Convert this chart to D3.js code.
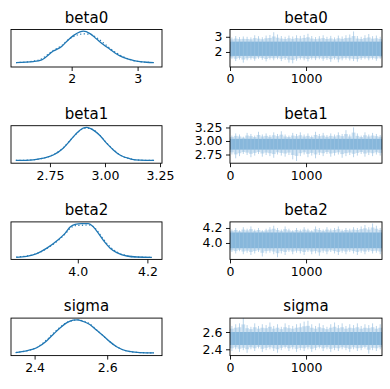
<!DOCTYPE html>
<html lang="en">
<head>
<meta charset="UTF-8">
<title>Trace plot</title>
<script src="https://cdn.jsdelivr.net/npm/d3@7"></script>
<style>
  body { margin: 0; background: #fff; }
  text { font-family: "DejaVu Sans", sans-serif; fill: #000; }
</style>
</head>
<body>
<script>
// variable names (one row each)
const varNames = ["beta0", "beta1", "beta2", "sigma"];

// density curves (relative height, peak = 1), two chains
const beta0Grid = [1.156, 1.419, 1.545, 1.722, 1.848, 1.924, 2.025, 2.126, 2.177, 2.278, 2.379, 2.48, 2.58, 2.681, 2.782, 2.883, 2.984, 3.136, 3.247];
const beta0Kde0 = [0.08, 0.11, 0.16, 0.42, 0.55, 0.70, 0.87, 0.98, 1.0, 0.93, 0.77, 0.61, 0.47, 0.33, 0.23, 0.17, 0.12, 0.09, 0.08];
const beta0Kde1 = [0.08, 0.12, 0.19, 0.44, 0.58, 0.71, 0.84, 0.91, 0.92, 0.91, 0.81, 0.66, 0.50, 0.36, 0.25, 0.17, 0.12, 0.09, 0.08];

const beta1Grid = [2.595, 2.674, 2.72, 2.765, 2.81, 2.84, 2.871, 2.901, 2.917, 2.947, 2.977, 3.008, 3.038, 3.068, 3.114, 3.159, 3.223];
const beta1Kde0 = [0.03, 0.05, 0.10, 0.19, 0.39, 0.60, 0.83, 0.98, 1.0, 0.92, 0.76, 0.53, 0.34, 0.19, 0.08, 0.04, 0.03];
const beta1Kde1 = [0.03, 0.05, 0.10, 0.20, 0.40, 0.61, 0.82, 0.96, 0.98, 0.93, 0.77, 0.54, 0.35, 0.19, 0.08, 0.04, 0.03];

const beta2Grid = [3.823, 3.853, 3.882, 3.911, 3.94, 3.964, 3.978, 3.992, 4.011, 4.03, 4.045, 4.059, 4.074, 4.093, 4.112, 4.141, 4.17, 4.213];
const beta2Kde0 = [0.01, 0.04, 0.12, 0.28, 0.50, 0.72, 0.90, 0.98, 1.0, 1.0, 0.90, 0.72, 0.50, 0.28, 0.15, 0.05, 0.02, 0.01];
const beta2Kde1 = [0.02, 0.05, 0.12, 0.27, 0.48, 0.70, 0.86, 0.94, 0.95, 0.96, 0.91, 0.75, 0.54, 0.32, 0.17, 0.06, 0.02, 0.01];

const sigmaGrid = [2.348, 2.378, 2.406, 2.433, 2.451, 2.47, 2.488, 2.506, 2.517, 2.534, 2.552, 2.571, 2.589, 2.607, 2.626, 2.653, 2.69, 2.729];
const sigmaKde0 = [0.04, 0.09, 0.18, 0.38, 0.57, 0.76, 0.91, 0.99, 1.0, 0.95, 0.86, 0.69, 0.53, 0.36, 0.21, 0.09, 0.04, 0.03];
const sigmaKde1 = [0.04, 0.09, 0.19, 0.41, 0.60, 0.78, 0.92, 0.98, 1.0, 0.97, 0.88, 0.70, 0.53, 0.36, 0.21, 0.09, 0.04, 0.03];

// trace column: 2000 draws, summarised in 40 blocks of 50 (block max / min) + dense central band
const nDraws = 2000;
const beta0Hi = [2.95, 3.05, 2.98, 3.02, 3.0, 2.96, 3.1, 3.04, 2.97, 3.08, 3.12, 3.3, 3.15, 3.05, 3.0, 3.08, 3.02, 3.1, 3.06, 3.12, 3.2, 3.05, 2.98, 3.04, 3.1, 3.0, 3.06, 2.96, 3.08, 3.02, 3.1, 3.15, 3.35, 3.05, 3.0, 3.1, 3.18, 3.04, 3.08, 3.0];
const beta0Lo = [1.55, 1.4, 1.5, 1.3, 1.45, 1.5, 1.42, 1.55, 1.48, 1.38, 1.5, 1.45, 1.52, 1.4, 1.48, 1.3, 1.25, 1.42, 1.5, 1.45, 1.38, 1.5, 1.46, 1.52, 1.42, 1.48, 1.35, 1.5, 1.32, 1.45, 1.5, 1.44, 1.4, 1.36, 1.48, 1.52, 1.45, 1.5, 1.42, 1.55];
const beta0Band = [1.74, 2.68];

const beta1Hi = [3.1, 3.14, 3.12, 3.08, 3.15, 3.13, 3.1, 3.17, 3.12, 3.14, 3.11, 3.16, 3.13, 3.18, 3.12, 3.1, 3.15, 3.13, 3.16, 3.12, 3.14, 3.1, 3.17, 3.13, 3.15, 3.11, 3.14, 3.12, 3.16, 3.13, 3.2, 3.12, 3.25, 3.14, 3.1, 3.16, 3.12, 3.15, 3.13, 3.11];
const beta1Lo = [2.75, 2.68, 2.72, 2.76, 2.74, 2.7, 2.73, 2.76, 2.71, 2.74, 2.72, 2.69, 2.75, 2.73, 2.71, 2.74, 2.66, 2.63, 2.72, 2.75, 2.7, 2.73, 2.68, 2.74, 2.72, 2.76, 2.71, 2.73, 2.75, 2.69, 2.72, 2.74, 2.7, 2.73, 2.76, 2.71, 2.74, 2.72, 2.75, 2.73];
const beta1Band = [2.84, 3.04];

const beta2Hi = [4.18, 4.2, 4.17, 4.21, 4.19, 4.22, 4.18, 4.2, 4.17, 4.19, 4.21, 4.23, 4.2, 4.18, 4.22, 4.19, 4.17, 4.2, 4.18, 4.21, 4.19, 4.17, 4.22, 4.2, 4.18, 4.21, 4.19, 4.2, 4.22, 4.18, 4.2, 4.19, 4.21, 4.2, 4.22, 4.24, 4.21, 4.26, 4.23, 4.2];
const beta2Lo = [3.88, 3.86, 3.89, 3.85, 3.87, 3.84, 3.86, 3.88, 3.82, 3.86, 3.87, 3.85, 3.81, 3.86, 3.84, 3.88, 3.85, 3.87, 3.86, 3.84, 3.88, 3.85, 3.86, 3.83, 3.87, 3.85, 3.88, 3.86, 3.84, 3.87, 3.85, 3.88, 3.86, 3.84, 3.87, 3.85, 3.88, 3.86, 3.87, 3.85];
const beta2Band = [3.93, 4.14];

const sigmaHi = [2.67, 2.69, 2.7, 2.76, 2.68, 2.66, 2.7, 2.67, 2.69, 2.68, 2.71, 2.67, 2.69, 2.66, 2.7, 2.68, 2.67, 2.69, 2.7, 2.72, 2.73, 2.69, 2.67, 2.7, 2.68, 2.66, 2.69, 2.71, 2.68, 2.7, 2.67, 2.69, 2.68, 2.7, 2.67, 2.69, 2.68, 2.7, 2.67, 2.69];
const sigmaLo = [2.38, 2.4, 2.37, 2.39, 2.36, 2.4, 2.38, 2.41, 2.37, 2.39, 2.4, 2.38, 2.36, 2.39, 2.41, 2.38, 2.4, 2.37, 2.39, 2.38, 2.4, 2.37, 2.39, 2.41, 2.38, 2.4, 2.37, 2.39, 2.38, 2.4, 2.39, 2.37, 2.4, 2.38, 2.39, 2.41, 2.35, 2.39, 2.38, 2.4];
const sigmaBand = [2.45, 2.60];

// tick labels
const kdeTicks = [[2, 3], [2.75, 3.0, 3.25], [4.0, 4.2], [2.4, 2.6]];
const traceYTicks = [[2, 3], [2.75, 3.0, 3.25], [4.0, 4.2], [2.4, 2.6]];
const traceXTicks = [0, 1000];

// axis ranges as shown
const kdeXDomain = [[1.08, 3.37], [2.573, 3.259], [3.808, 4.242], [2.335, 2.751]];
const traceYDomain = [[1.01, 3.48], [2.589, 3.283], [3.781, 4.281], [2.327, 2.761]];

const rows = [
  {grid: beta0Grid, k0: beta0Kde0, k1: beta0Kde1, hi: beta0Hi, lo: beta0Lo, band: beta0Band},
  {grid: beta1Grid, k0: beta1Kde0, k1: beta1Kde1, hi: beta1Hi, lo: beta1Lo, band: beta1Band},
  {grid: beta2Grid, k0: beta2Kde0, k1: beta2Kde1, hi: beta2Hi, lo: beta2Lo, band: beta2Band},
  {grid: sigmaGrid, k0: sigmaKde0, k1: sigmaKde1, hi: sigmaHi, lo: sigmaLo, band: sigmaBand}
];

const W = 390, H = 389;
const leftX = [11, 162], rightX = [230, 382];
const rowTop = i => 29.5 + i * 96.2;
const rowH = 37.5;
const blue = "#1f77b4";

const svg = d3.select("body").append("svg")
    .attr("width", W)
    .attr("height", H);

function tickFormatFor(ticks) {
  const dec = d3.max(ticks, t => {
    const s = String(t).split(".")[1];
    return s ? s.length : 0;
  });
  return d3.format("." + dec + "f");
}

function styleAxis(g) {
  g.selectAll(".domain").remove();
  g.selectAll("line").attr("stroke", "#000").attr("stroke-width", 0.9);
  g.selectAll("text").attr("font-size", 12.5).style("font-family", "DejaVu Sans");
}

rows.forEach((r, i) => {
  const top = rowTop(i), bottom = top + rowH;

  // ---------- left: KDE ----------
  const x = d3.scaleLinear().domain(kdeXDomain[i]).range(leftX);
  const y = d3.scaleLinear().domain([-0.05, 1.05]).range([bottom, top]);
  const gk = svg.append("g");

  const line = d3.line()
      .x(d => x(d[0]))
      .y(d => y(d[1]))
      .curve(d3.curveMonotoneX);

  gk.append("path")
      .datum(r.grid.map((g, j) => [g, r.k1[j]]))
      .attr("d", line)
      .attr("fill", "none")
      .attr("stroke", blue)
      .attr("stroke-width", 1.2)
      .attr("stroke-dasharray", "1.2,2.4");

  gk.append("path")
      .datum(r.grid.map((g, j) => [g, r.k0[j]]))
      .attr("d", line)
      .attr("fill", "none")
      .attr("stroke", blue)
      .attr("stroke-width", 1.3);

  gk.append("g")
      .attr("transform", `translate(0,${bottom})`)
      .call(d3.axisBottom(x).tickValues(kdeTicks[i]).tickFormat(tickFormatFor(kdeTicks[i])).tickSize(4).tickPadding(3.5))
      .call(styleAxis);

  gk.append("rect")
      .attr("x", leftX[0]).attr("y", top)
      .attr("width", leftX[1] - leftX[0]).attr("height", rowH)
      .attr("fill", "none").attr("stroke", "#000").attr("stroke-width", 0.9);

  gk.append("text")
      .attr("x", (leftX[0] + leftX[1]) / 2)
      .attr("y", top - 7)
      .attr("text-anchor", "middle")
      .attr("font-size", 15)
      .text(varNames[i]);

  // ---------- right: trace ----------
  const tx = d3.scaleLinear().domain([0, nDraws - 1]).range(rightX);
  const ty = d3.scaleLinear().domain(traceYDomain[i]).range([bottom, top]);
  const gt = svg.append("g");
  const blk = nDraws / r.hi.length;
  const blocks = r.hi.map((h, j) => ({j, h, l: r.lo[j]}));

  // light halo between block extremes
  gt.append("g").selectAll("rect")
      .data(blocks)
      .join("rect")
      .attr("x", d => tx(d.j * blk))
      .attr("width", d => tx((d.j + 1) * blk) - tx(d.j * blk))
      .attr("y", d => ty(d.h * 0.55 + r.band[1] * 0.45))
      .attr("height", d => ty(d.l * 0.55 + r.band[0] * 0.45) - ty(d.h * 0.55 + r.band[1] * 0.45))
      .attr("fill", "#b3d1e9")
      .attr("opacity", 0.7);

  // dense central band
  gt.append("rect")
      .attr("x", tx(0)).attr("width", tx(nDraws - 1) - tx(0))
      .attr("y", ty(r.band[1])).attr("height", ty(r.band[0]) - ty(r.band[1]))
      .attr("fill", "#87b7db");

  // block extremes as spikes
  gt.append("g").selectAll("line")
      .data(blocks)
      .join("line")
      .attr("x1", d => tx((d.j + 0.5) * blk))
      .attr("x2", d => tx((d.j + 0.5) * blk))
      .attr("y1", d => ty(d.h))
      .attr("y2", d => ty(d.l))
      .attr("stroke", "#9cc3e2")
      .attr("stroke-width", 1)
      .attr("opacity", 0.7);

  gt.append("g")
      .attr("transform", `translate(0,${bottom})`)
      .call(d3.axisBottom(tx).tickValues(traceXTicks).tickFormat(d3.format("d")).tickSize(4).tickPadding(3.5))
      .call(styleAxis);

  gt.append("g")
      .attr("transform", `translate(${rightX[0]},0)`)
      .call(d3.axisLeft(ty).tickValues(traceYTicks[i]).tickFormat(tickFormatFor(traceYTicks[i])).tickSize(4).tickPadding(3.5))
      .call(styleAxis);

  gt.append("rect")
      .attr("x", rightX[0]).attr("y", top)
      .attr("width", rightX[1] - rightX[0]).attr("height", rowH)
      .attr("fill", "none").attr("stroke", "#000").attr("stroke-width", 0.9);

  gt.append("text")
      .attr("x", (rightX[0] + rightX[1]) / 2)
      .attr("y", top - 7)
      .attr("text-anchor", "middle")
      .attr("font-size", 15)
      .text(varNames[i]);
});
</script>
</body>
</html>
